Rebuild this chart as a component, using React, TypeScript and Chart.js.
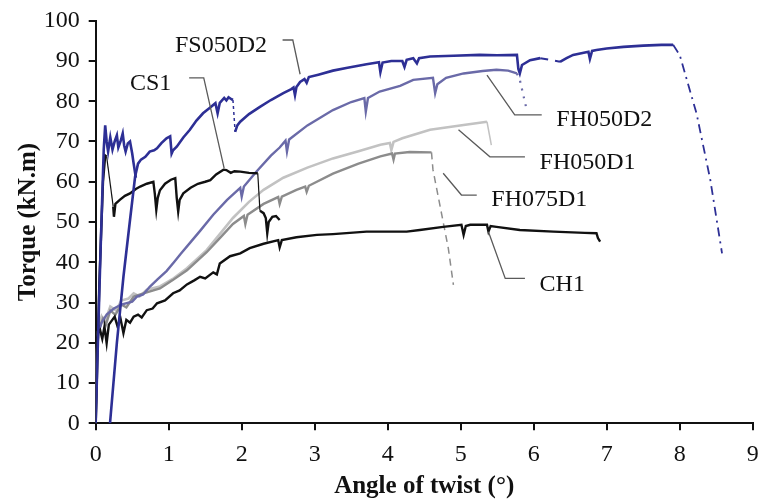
import { useEffect, useRef } from "react";
import { Chart, registerables } from "chart.js";
Chart.register(...registerables);

type P = [number, number];

// ---- Axis settings ----
const xRange: P = [0, 9];
const yRange: P = [0, 100];
const xStep = 1;
const yStep = 10;
const xTitle = "Angle of twist (°)";
const yTitle = "Torque (kN.m)";

// ---- FS050D2 (dark blue) ----
const fs050d2Initial: P[] = [
  [0, 0], [0.03, 20], [0.07, 45], [0.11, 68], [0.13, 74], [0.15, 70], [0.17, 67.5], [0.2, 71],
  [0.23, 68], [0.26, 70], [0.29, 71.5], [0.31, 68.5], [0.34, 70], [0.37, 72], [0.39, 69],
  [0.41, 67.5], [0.44, 69.5], [0.47, 70], [0.5, 67], [0.52, 64.5], [0.55, 61],
];
const fs050d2A: P[] = [
  [0.196, 0], [0.29, 20], [0.38, 36.4], [0.47, 50.5], [0.54, 61.3], [0.58, 64.5], [0.62, 65.5],
  [0.68, 66.2], [0.74, 67.5], [0.8, 67.8], [0.84, 68.3], [0.9, 69.6], [0.97, 70.8], [1.02, 71.3],
  [1.04, 67], [1.06, 67.8], [1.11, 68.7], [1.2, 71], [1.29, 72.9], [1.38, 75.2], [1.47, 77],
  [1.56, 78.3], [1.64, 79.5], [1.67, 77], [1.7, 79.6], [1.76, 80.8], [1.79, 80.2], [1.82, 81],
  [1.86, 80.5], [1.88, 80.3],
];
const fs050d2Drop: P[] = [[1.88, 80.3], [1.91, 72.4]];
const fs050d2B: P[] = [
  [1.91, 72.4], [1.94, 74], [1.98, 74.9], [2.1, 76.8], [2.25, 78.6], [2.4, 80.3], [2.57, 82],
  [2.68, 83], [2.71, 83.4], [2.73, 81.5], [2.75, 83.5], [2.8, 84.8], [2.86, 85.5], [2.89, 84.6],
  [2.92, 86], [3.05, 86.6], [3.25, 87.6], [3.45, 88.3], [3.71, 89.2], [3.88, 89.7], [3.9, 87.2],
  [3.93, 89.6], [4.05, 90], [4.2, 90], [4.23, 88.5], [4.26, 90.3], [4.35, 90.7], [4.4, 89.4],
  [4.43, 90.7], [4.58, 91.1], [4.9, 91.3], [5.26, 91.5], [5.5, 91.4], [5.77, 91.5], [5.79, 88],
  [5.81, 86.9], [5.84, 89], [5.95, 90.2], [6.09, 90.7],
];
const fs050d2Gap: P[] = [[6.09, 90.7], [6.36, 89.8]];
const fs050d2C: P[] = [
  [6.36, 89.8], [6.45, 90.7], [6.54, 91.5], [6.75, 92.3], [6.77, 90.5], [6.8, 92.5], [6.86, 92.7],
  [7.0, 93.1], [7.23, 93.5], [7.5, 93.8], [7.75, 94], [7.91, 94],
];
const fs050d2Tail: P[] = [[7.91, 94], [8.0, 91.5], [8.23, 77], [8.42, 60.4], [8.58, 42.2]];

// ---- CS1 (black) ----
const cs1Head: P[] = [[0, 0], [0.05, 35], [0.1, 60], [0.13, 66.5], [0.15, 66.2]];
const cs1Fall: P[] = [[0.15, 66.2], [0.24, 53.8]];
const cs1Main: P[] = [
  [0.24, 53.8], [0.25, 51.3], [0.27, 54.5], [0.33, 55.5], [0.4, 56.5], [0.47, 57.1], [0.55, 58.2],
  [0.61, 58.8], [0.7, 59.5], [0.79, 60], [0.81, 57], [0.83, 53], [0.85, 56], [0.88, 57.9],
  [0.95, 59.5], [1.03, 60.5], [1.09, 60.9], [1.11, 56], [1.13, 52.6], [1.15, 55.5], [1.2, 57.1],
  [1.3, 58.5], [1.4, 59.5], [1.5, 60], [1.57, 60.4], [1.65, 61.8], [1.75, 63], [1.79, 62.9],
  [1.85, 62.2], [1.9, 62.6], [1.98, 62.5], [2.1, 62.2], [2.22, 62.1],
];
const cs1Drop: P[] = [[2.22, 62.1], [2.25, 52.8]];
const cs1End: P[] = [
  [2.25, 52.8], [2.3, 52.2], [2.33, 51], [2.35, 47.2], [2.37, 50], [2.42, 51.3], [2.47, 51.5], [2.52, 50.5],
];

// ---- FH050D2 (medium blue) ----
const fh050d2: P[] = [
  [0, 0], [0.01, 15], [0.03, 22], [0.08, 25], [0.15, 27], [0.25, 28.5], [0.35, 29.5], [0.5, 30.2],
  [0.56, 31.4], [0.65, 32], [0.74, 33.9], [0.85, 35.8], [0.97, 37.8], [1.08, 40.2], [1.16, 42],
  [1.3, 45], [1.43, 47.8], [1.61, 51.8], [1.8, 55.5], [1.98, 58.5], [2.0, 56.3], [2.03, 58.8],
  [2.2, 62.5], [2.4, 66.5], [2.52, 68.5], [2.6, 70.2], [2.62, 67.5], [2.65, 70.5], [2.9, 74],
  [3.25, 77.8], [3.5, 79.8], [3.68, 80.8], [3.7, 77.4], [3.73, 80.8], [3.89, 82.4], [4.17, 83.8],
  [4.35, 85.3], [4.62, 85.8], [4.65, 82], [4.68, 84.2], [4.8, 85.8], [5.04, 86.9], [5.3, 87.5],
  [5.49, 87.8], [5.65, 87.6], [5.77, 86.9],
];
const fh050d2Tail: P[] = [[5.77, 86.9], [5.81, 85.3], [5.9, 78.2]];

// ---- FH050D1 (light grey) ----
const fh050d1: P[] = [
  [0, 0], [0.01, 18], [0.04, 24], [0.08, 26.5], [0.12, 25], [0.2, 29], [0.28, 28], [0.35, 30.5],
  [0.45, 31], [0.52, 32.3], [0.6, 31.5], [0.7, 33.2], [0.88, 34], [1.05, 35.8], [1.25, 38.5],
  [1.52, 43], [1.7, 47], [1.88, 51], [2.1, 55], [2.3, 58], [2.57, 61], [2.9, 63.5], [3.25, 65.8],
  [3.6, 67.6], [3.9, 69.2], [4.03, 69.6], [4.05, 67.9], [4.08, 69.9], [4.2, 70.8], [4.58, 72.9],
  [5.04, 74.1], [5.36, 74.9],
];
const fh050d1Tail: P[] = [[5.36, 74.9], [5.42, 69.1]];

// ---- FH075D1 (mid grey) ----
const fh075d1: P[] = [
  [0, 0], [0.01, 17], [0.04, 23], [0.1, 26], [0.14, 24.5], [0.2, 28], [0.27, 27], [0.35, 29.5],
  [0.42, 28.8], [0.52, 31.5], [0.7, 32.5], [0.88, 33.5], [1.05, 35.5], [1.25, 38], [1.52, 42.5],
  [1.7, 46], [1.88, 49.5], [2.03, 51.5], [2.05, 49.5], [2.08, 51.8], [2.3, 54.5], [2.5, 56.2],
  [2.52, 54.5], [2.55, 56.3], [2.75, 58], [2.87, 58.8], [2.89, 57.5], [2.92, 59], [3.25, 62],
  [3.6, 64.5], [3.9, 66.3], [4.06, 67], [4.08, 65.5], [4.1, 67], [4.3, 67.4], [4.6, 67.3],
];
const fh075d1Tail: P[] = [[4.6, 67.3], [4.62, 63], [4.83, 43.5], [4.9, 34.4]];

// ---- CH1 (black) ----
const ch1: P[] = [
  [0, 0], [0.005, 12], [0.01, 20], [0.03, 22.5], [0.06, 23.2], [0.09, 21], [0.12, 24], [0.15, 19.9],
  [0.18, 24.5], [0.22, 25.5], [0.26, 26.5], [0.3, 24], [0.34, 26], [0.38, 22.4], [0.42, 25.7],
  [0.47, 25], [0.52, 26.5], [0.58, 27], [0.63, 26.3], [0.7, 28.1], [0.78, 28.5], [0.84, 29.8],
  [0.95, 30.5], [1.06, 32.3], [1.15, 33], [1.25, 34.5], [1.35, 35.5], [1.43, 36.4], [1.5, 36],
  [1.61, 37.5], [1.66, 37], [1.7, 39.7], [1.84, 41.5], [1.98, 42.2], [2.11, 43.5], [2.3, 44.6],
  [2.5, 45.5], [2.52, 43.7], [2.55, 45.5], [2.75, 46.2], [3.03, 46.8], [3.25, 47], [3.71, 47.6],
  [4.26, 47.6], [4.44, 48], [4.76, 48.8], [5.01, 49.3], [5.04, 46.8], [5.07, 49], [5.13, 49.3],
  [5.36, 49.3], [5.38, 47.6], [5.41, 49], [5.49, 48.8], [5.81, 48], [6.27, 47.6], [6.7, 47.3],
  [6.86, 47.2], [6.88, 46], [6.91, 45.1],
];

// ---- Series labels (text, anchor in data units, leader line in data units) ----
const labelTexts = ["FS050D2", "CS1", "FH050D2", "FH050D1", "FH075D1", "CH1"];
const labelAnchors: P[] = [[1.086, 93.7], [0.469, 84.4], [6.31, 75.3], [6.08, 64.7], [5.42, 55.5], [6.08, 34.4]];
const labelLeaders: P[][] = [
  [[2.56, 95.2], [2.7, 95.2], [2.8, 86.7]],
  [[1.28, 85.8], [1.48, 85.8], [1.76, 63.3]],
  [[5.36, 86.5], [5.74, 76.6], [6.11, 76.6]],
  [[4.97, 72.9], [5.4, 66.2], [5.88, 66.2]],
  [[4.76, 62.1], [5.01, 56.7], [5.22, 56.7]],
  [[5.38, 47.6], [5.61, 36.0], [5.88, 36.0]],
];

const DARK_BLUE = "#2d2f95";
const MID_BLUE = "#6a6aa8";
const LIGHT_GREY = "#c2c2c2";
const MID_GREY = "#8c8c8c";
const BLACK = "#111111";
const SERIF = '"Liberation Serif", "Times New Roman", serif';

const toXY = (pts: P[]) => pts.map(([x, y]) => ({ x, y }));
const line = (pts: P[], color: string, width: number, dash: number[] = []) => ({
  data: toXY(pts),
  borderColor: color,
  backgroundColor: color,
  borderWidth: width,
  borderDash: dash,
  showLine: true,
  pointRadius: 0,
  pointHoverRadius: 0,
  fill: false,
  tension: 0,
});

const labelPlugin = {
  id: "seriesLabels",
  afterDatasetsDraw(chart: any) {
    const { ctx, scales } = chart;
    const xs = scales.x;
    const ys = scales.y;
    ctx.save();
    labelTexts.forEach((text, i) => {
      ctx.beginPath();
      labelLeaders[i].forEach(([a, b], j) => {
        const px = xs.getPixelForValue(a);
        const py = ys.getPixelForValue(b);
        if (j === 0) ctx.moveTo(px, py);
        else ctx.lineTo(px, py);
      });
      ctx.strokeStyle = "#5a5a5a";
      ctx.lineWidth = 1.3;
      ctx.setLineDash([]);
      ctx.stroke();
      ctx.font = `24px ${SERIF}`;
      ctx.fillStyle = BLACK;
      ctx.textAlign = "left";
      ctx.textBaseline = "middle";
      ctx.fillText(text, xs.getPixelForValue(labelAnchors[i][0]), ys.getPixelForValue(labelAnchors[i][1]));
    });
    ctx.restore();
  },
};

export default function App() {
  const ref = useRef<HTMLCanvasElement | null>(null);
  useEffect(() => {
    if (!ref.current) return;
    const axisCommon = {
      type: "linear" as const,
      grid: { display: true, drawOnChartArea: false, drawTicks: true, tickLength: 7, color: BLACK, lineWidth: 2 },
      border: { display: true, color: BLACK, width: 2 },
    };
    const chart = new Chart(ref.current, {
      type: "scatter",
      data: {
        datasets: [
          line(fs050d2Initial, DARK_BLUE, 2.6),
          line(fs050d2A, DARK_BLUE, 2.6),
          line(fs050d2Drop, DARK_BLUE, 1.5, [3, 3]),
          line(fs050d2B, DARK_BLUE, 2.6),
          line(fs050d2Gap, DARK_BLUE, 2, [8, 7]),
          line(fs050d2C, DARK_BLUE, 2.6),
          line(fs050d2Tail, DARK_BLUE, 1.8, [9, 5, 2, 5]),
          line(ch1, BLACK, 2.4),
          line(cs1Head, BLACK, 2.4),
          line(cs1Fall, BLACK, 1.2),
          line(cs1Main, BLACK, 2.4),
          line(cs1Drop, BLACK, 1.2),
          line(cs1End, BLACK, 2.4),
          line(fh050d2, MID_BLUE, 2.4),
          line(fh050d2Tail, MID_BLUE, 2.2, [2, 6]),
          line(fh075d1, MID_GREY, 2.4),
          line(fh075d1Tail, MID_GREY, 1.5, [7, 5]),
          line(fh050d1, LIGHT_GREY, 2.6),
          line(fh050d1Tail, LIGHT_GREY, 1.5),
        ],
      },
      options: {
        responsive: false,
        animation: false,
        events: [],
        layout: { padding: { top: 20.7, right: 7.3, left: 0, bottom: 0 } },
        plugins: { legend: { display: false }, tooltip: { enabled: false } },
        scales: {
          x: {
            ...axisCommon,
            min: xRange[0],
            max: xRange[1],
            afterFit: (s: any) => { s.height = 75.7; s.paddingLeft = 0; s.paddingRight = 0; },
            ticks: { stepSize: xStep, autoSkip: false, maxRotation: 0, color: BLACK, padding: 10, font: { family: SERIF, size: 24 } },
            title: { display: true, text: xTitle, color: BLACK, font: { family: SERIF, size: 25, weight: "bold", lineHeight: 1 }, padding: { top: 0, bottom: 0 } },
          },
          y: {
            ...axisCommon,
            min: yRange[0],
            max: yRange[1],
            afterFit: (s: any) => { s.width = 95.7; s.paddingTop = 0; s.paddingBottom = 0; },
            ticks: { stepSize: yStep, autoSkip: false, color: BLACK, padding: 9, font: { family: SERIF, size: 24 } },
            title: { display: true, text: yTitle, color: BLACK, font: { family: SERIF, size: 25, weight: "bold", lineHeight: 1 }, padding: { top: 16, bottom: 0 } },
          },
        },
      },
      plugins: [labelPlugin],
    } as any);
    return () => chart.destroy();
  }, []);
  return (
    <div style={{ position: "fixed", left: 0, top: 0, width: 760, height: 499, background: "#fff" }}>
      <canvas ref={ref} width={760} height={499} style={{ display: "block" }} />
    </div>
  );
}
